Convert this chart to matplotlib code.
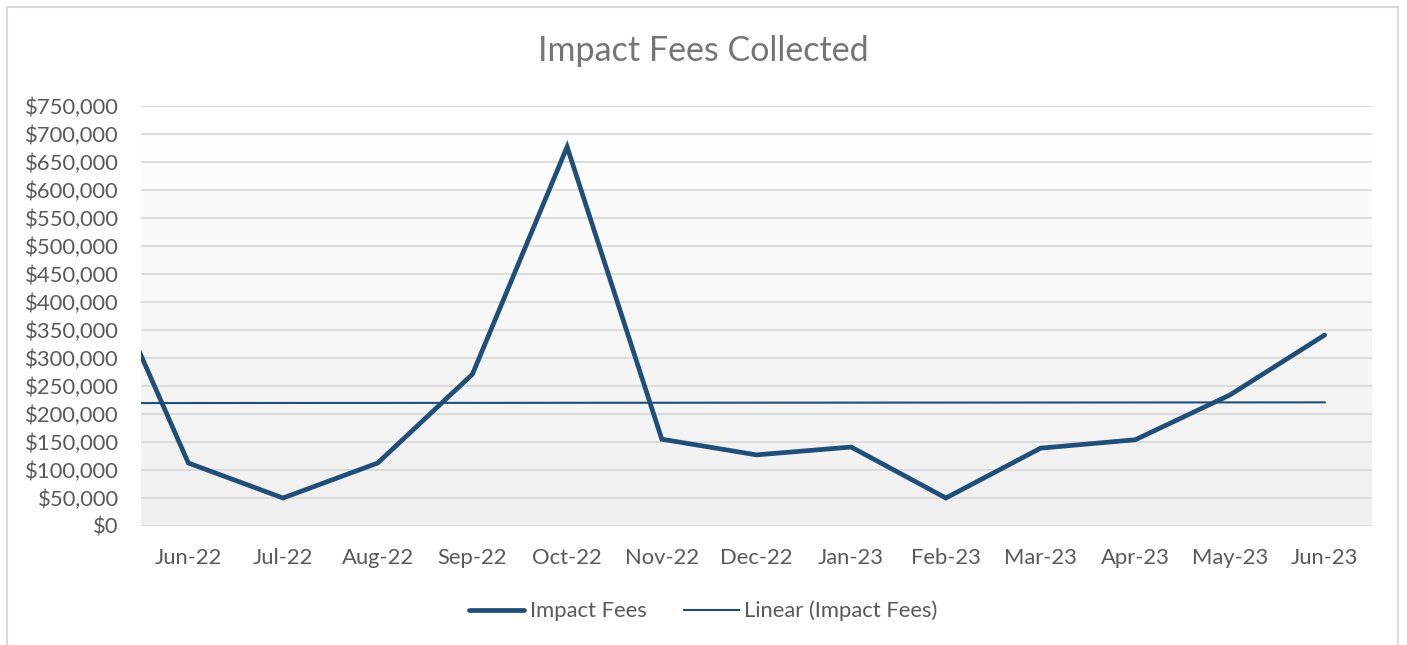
import numpy as np
import matplotlib
matplotlib.use("Agg")
import matplotlib.pyplot as plt
from matplotlib.colors import LinearSegmentedColormap
from matplotlib.lines import Line2D
from matplotlib.patches import Rectangle
from matplotlib.ticker import FuncFormatter, MultipleLocator

# ---- data ----
categories = ["Jun-22", "Jul-22", "Aug-22", "Sep-22", "Oct-22", "Nov-22", "Dec-22",
              "Jan-23", "Feb-23", "Mar-23", "Apr-23", "May-23", "Jun-23"]
impact_fees = [112500, 50000, 112500, 271000, 677000, 155000, 127000,
               141000, 50000, 139000, 154000, 234000, 341000]
# earlier point (May-22) lies left of the visible axis and is clipped
prior_value = 497000
# linear trendline values at the first (clipped) and last data point
trend_values = [219500, 220800]

title = "Impact Fees Collected"
series_label = "Impact Fees"
trend_label = "Linear (Impact Fees)"

plt.rcParams['font.family'] = ['Lato', 'DejaVu Sans']
text_color = "#595959"
line_color = "#1F4E79"
grid_color = "#D9D9D9"
fs = 15.8

fig = plt.figure(figsize=(14.07, 6.45), dpi=100)
ax = fig.add_axes([141/1407, 1-526/645, (1372-141)/1407, (526-106)/645])

# gradient plot area background
cmap = LinearSegmentedColormap.from_list("bg", ["#F0F0F0", "#FFFFFF"])
ax.imshow(np.linspace(0, 1, 256).reshape(-1, 1), cmap=cmap, origin="lower",
          extent=[0, 1, 0, 1], transform=ax.transAxes, aspect="auto", zorder=0)

x = np.arange(len(categories))
xs = np.concatenate([[x[0] - 1], x])
ys = [prior_value] + impact_fees

ax.plot(xs, ys, color=line_color, lw=3.4, solid_joinstyle="miter",
        solid_capstyle="round", zorder=3)
ax.plot([x[0] - 1, x[-1]], trend_values, color=line_color, lw=1.5, zorder=2)

ax.set_xlim(-0.5, len(categories) - 0.5)
ax.set_ylim(0, 750000)
ax.yaxis.set_major_locator(MultipleLocator(50000))
ax.yaxis.set_major_formatter(FuncFormatter(lambda v, p: "${:,.0f}".format(v)))
ax.set_xticks(x)
ax.set_xticklabels(categories)
ax.grid(axis="y", color=grid_color, lw=1.3, zorder=1)
ax.set_axisbelow(True)
for s in ax.spines.values():
    s.set_visible(False)
ax.tick_params(axis="both", length=0, colors=text_color, labelsize=fs)
ax.tick_params(axis="y", pad=16)
ax.tick_params(axis="x", pad=16)

fig.text(0.5, 1-51/645, title, ha="center", va="center", fontsize=24.5, color="#757575")

handles = [Line2D([], [], color=line_color, lw=3.4, solid_capstyle="round"),
           Line2D([], [], color=line_color, lw=1.5)]
fig.legend(handles, [series_label, trend_label], loc="center",
           bbox_to_anchor=(0.5, 1-611/645), ncol=2, frameon=False,
           fontsize=fs, labelcolor=text_color, handlelength=2.5,
           handletextpad=0.25, columnspacing=1.7)

# chart border
fig.patches.append(Rectangle((7/1407, -0.05), (1398-7)/1407, 1.05 - 7/645,
                             transform=fig.transFigure, fill=False,
                             edgecolor="#D9D9D9", lw=1.5))

fig.savefig("out.png", dpi=100)
